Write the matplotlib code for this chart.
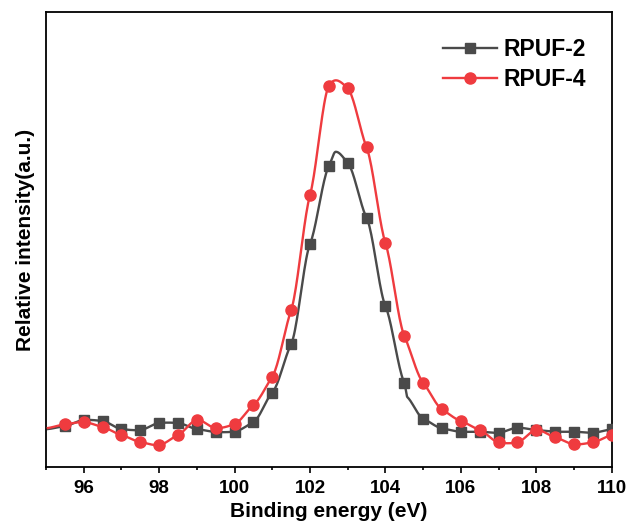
import numpy as np
import matplotlib
matplotlib.use("Agg")
import matplotlib.pyplot as plt
from matplotlib.ticker import MultipleLocator

plt.rcParams['font.family'] = ['Liberation Sans', 'DejaVu Sans']
plt.rcParams['font.weight'] = 'bold'

# Binding energy (eV) of the measured points shown with markers
energy = np.arange(95.5, 110.01, 0.5)

# Relative intensity (a.u.)
rpuf2 = [41, 47, 46, 38, 37, 44, 44, 38, 35, 35.5, 45, 74.5, 123, 223, 301,
         304.3, 249.3, 161, 84.3, 48.5, 38.7, 35.3, 35.3, 34.3, 39.3, 37,
         35.3, 35.3, 34.3, 37.7]
rpuf4 = [42.7, 45, 40, 32, 25, 22, 32, 47, 39, 43, 62, 90.5, 157, 272, 381.3,
         378.7, 319.7, 224, 131.3, 84.3, 57.7, 46, 37, 24.7, 24.7, 37, 29.7,
         22.7, 24.7, 32]

# Additional points of the recorded traces (no markers)
rpuf2_extra_x = [95.05, 102.68, 104.58]
rpuf2_extra_y = [38, 315.3, 70]
rpuf4_extra_x = [95.05]
rpuf4_extra_y = [39]

GREY = '#4a4a4a'
RED = '#ef3b3f'


def smooth_curve(x, y, tension=0.55, n=20):
    """Cardinal Hermite curve through the points."""
    x = np.asarray(x, float)
    y = np.asarray(y, float)
    m = np.empty_like(y)
    m[1:-1] = (y[2:] - y[:-2]) / (x[2:] - x[:-2])
    m[0] = (y[1] - y[0]) / (x[1] - x[0])
    m[-1] = (y[-1] - y[-2]) / (x[-1] - x[-2])
    m *= tension
    xs, ys = [], []
    for i in range(len(x) - 1):
        h = x[i + 1] - x[i]
        t = np.linspace(0, 1, n, endpoint=False)
        h00 = 2 * t**3 - 3 * t**2 + 1
        h10 = t**3 - 2 * t**2 + t
        h01 = -2 * t**3 + 3 * t**2
        h11 = t**3 - t**2
        xs.append(x[i] + t * h)
        ys.append(h00 * y[i] + h10 * h * m[i] + h01 * y[i + 1] + h11 * h * m[i + 1])
    xs.append([x[-1]])
    ys.append([y[-1]])
    return np.concatenate(xs), np.concatenate(ys)


def trace(x, y, ex, ey, tension):
    xx = np.concatenate([x, ex])
    yy = np.concatenate([y, ey])
    order = np.argsort(xx)
    return smooth_curve(xx[order], yy[order], tension=tension)


fig = plt.figure(figsize=(6.3, 5.28), dpi=100)
ax = fig.add_axes([0.073, 0.1155, 0.898, 0.8615])

gx, gy = trace(energy, rpuf2, rpuf2_extra_x, rpuf2_extra_y, 0.5)
rx, ry = trace(energy, rpuf4, rpuf4_extra_x, rpuf4_extra_y, 0.6)

ax.plot(gx, gy, color=GREY, lw=1.7, zorder=2)
ax.plot(energy, rpuf2, ls='none', marker='s', ms=7, color=GREY, zorder=3)
ax.plot(rx, ry, color=RED, lw=1.7, zorder=4)
ax.plot(energy, rpuf4, ls='none', marker='o', ms=8, color=RED, zorder=5)

# legend proxies
ax.plot([], [], color=GREY, lw=1.7, marker='s', ms=7, label='RPUF-2')
ax.plot([], [], color=RED, lw=1.7, marker='o', ms=8, label='RPUF-4')

ax.set_xlim(95, 110)
ax.set_ylim(0, 455)
ax.xaxis.set_major_locator(MultipleLocator(2))
ax.xaxis.set_minor_locator(MultipleLocator(1))
ax.set_yticks([])
ax.tick_params(axis='x', which='major', direction='out', length=4, width=1.2,
               labelsize=13.5, pad=5)
ax.tick_params(axis='x', which='minor', direction='out', length=2.5, width=1.2)
for lab in ax.get_xticklabels():
    lab.set_fontweight('bold')
for sp in ax.spines.values():
    sp.set_linewidth(1.3)
    sp.set_color('black')

ax.set_xlabel('Binding energy (eV)', fontsize=15, fontweight='bold', labelpad=4)
ax.set_ylabel('Relative intensity(a.u.)', fontsize=15, fontweight='bold', labelpad=8)

leg = ax.legend(loc='upper right', bbox_to_anchor=(0.983, 0.978), frameon=False,
                prop={'size': 16.5, 'weight': 'bold'}, handlelength=2.35,
                handletextpad=0.3, labelspacing=0.3, borderaxespad=0.3)

fig.savefig('out.png', dpi=100)
